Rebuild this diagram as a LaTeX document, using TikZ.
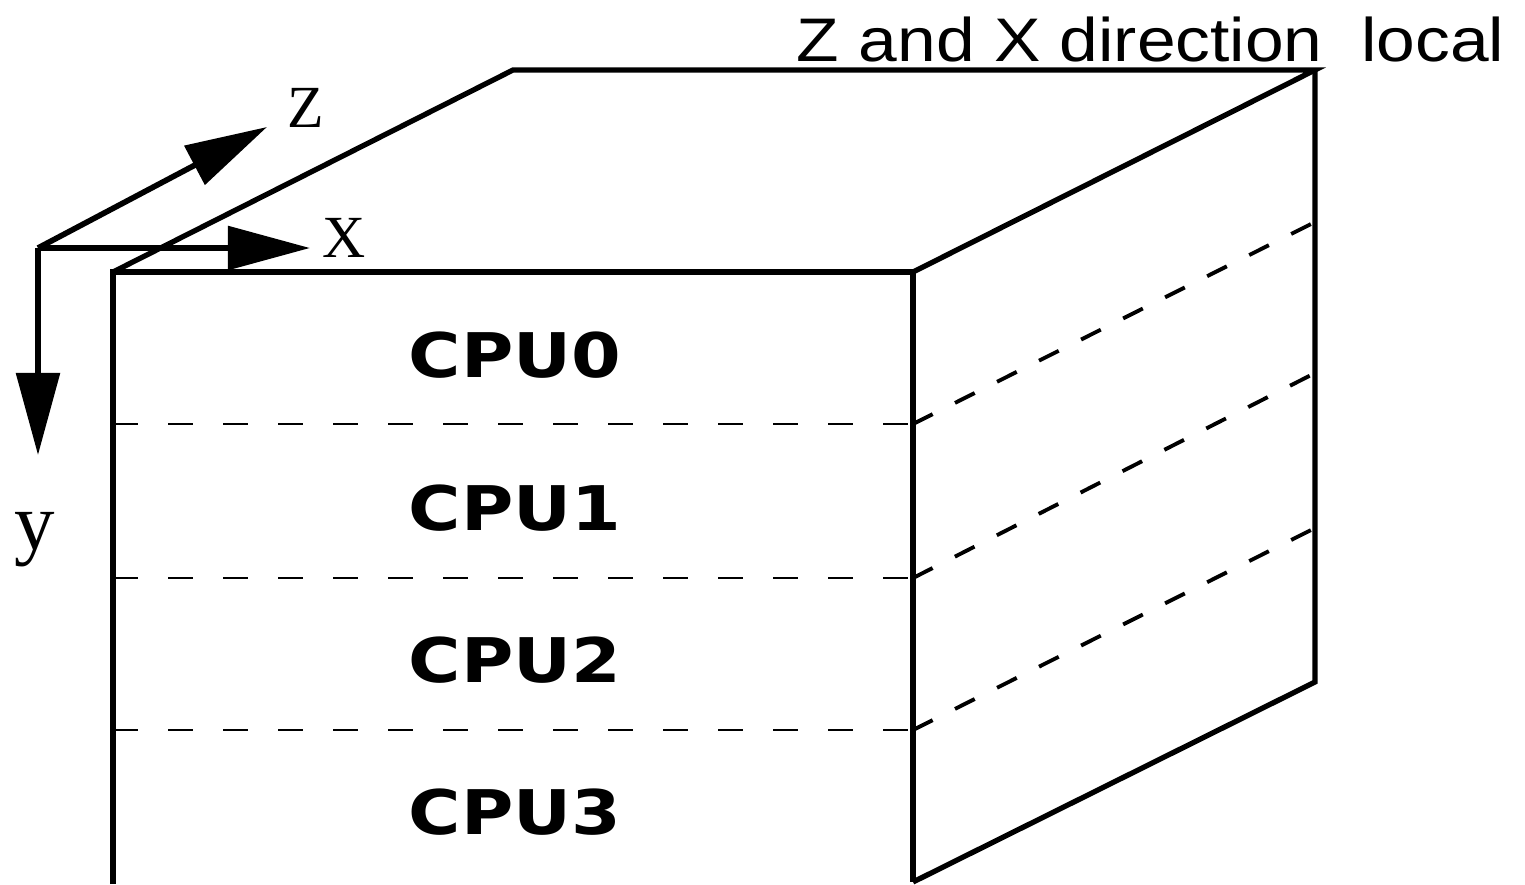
\documentclass[tikz,border=0pt]{standalone}
\usepackage{fontspec}
\setmainfont{Liberation Serif}
\newfontfamily\titlefont[FakeStretch=1.13]{Liberation Sans}
\newfontfamily\cpufont[FakeStretch=1.16]{DejaVu Sans}
\usetikzlibrary{arrows.meta}
\begin{document}
\begin{tikzpicture}[
    x=0.01cm, y=-0.01cm,
    edge/.style={line width=1.5pt},
    axis/.style={line width=1.6pt, -{Triangle[length=0.82cm, width=0.43cm]}},
    cut/.style={line width=0.6pt, dash pattern=on 0.25cm off 0.3cm},
    sidecut/.style={line width=1.1pt, dash pattern=on 0.22cm off 0.25cm},
    cpu/.style={font=\cpufont\bfseries\fontsize{17.5}{20}\selectfont},
    axislabel/.style={font=\fontsize{17}{20}\selectfont}
]
\useasboundingbox (0,0) rectangle (1525,884);
% Corners of the box
\coordinate (fl) at (113,272);
\coordinate (fr) at (913,272);
\coordinate (bl) at (513,70);
\coordinate (br) at (1315,70);
\coordinate (flb) at (113,884);
\coordinate (frb) at (913,882);
\coordinate (brb) at (1315,682);
% Box edges
\draw[edge] (flb) -- (fl) -- (fr) -- (frb);
\draw[edge] (fl) -- (bl) -- (br) -- (fr);
\draw[edge] (br) -- (brb) -- (frb);
% Cuts between the CPUs
\foreach \i/\ya/\yb in {1/424/222, 2/578/373, 3/730/528} {
    \coordinate (cl\i) at (113,\ya);
    \coordinate (cr\i) at (913,\ya);
    \coordinate (cb\i) at (1315,\yb);
    \draw[cut] (cl\i) -- (cr\i);
    \draw[sidecut] (cr\i) -- (cb\i);
}
% CPU labels
\node[cpu] (cpu0) at (515,355) {CPU0};
\node[cpu] (cpu1) at (515,508) {CPU1};
\node[cpu] (cpu2) at (515,660) {CPU2};
\node[cpu] (cpu3) at (515,812) {CPU3};
% Axes
\coordinate (origin) at (38,248);
\coordinate (ztip) at (267,127);
\coordinate (xtip) at (310,248);
\coordinate (ytip) at (38,455);
\draw[axis] (origin) -- (ztip);
\draw[axis] (origin) -- (xtip);
\draw[axis] (origin) -- (ytip);
\node[axislabel] (zlabel) at (306,108) {Z};
\node[axislabel] (xlabel) at (344,238) {X};
\node[axislabel, font=\fontsize{23}{26}\selectfont] (ylabel) at (35,540) {y};
% Title
\node[anchor=base east, font=\titlefont\fontsize{17.5}{20}\selectfont, inner sep=0pt] (title) at (1505,61) {Z and X direction\ \ local};
\end{tikzpicture}
\end{document}
